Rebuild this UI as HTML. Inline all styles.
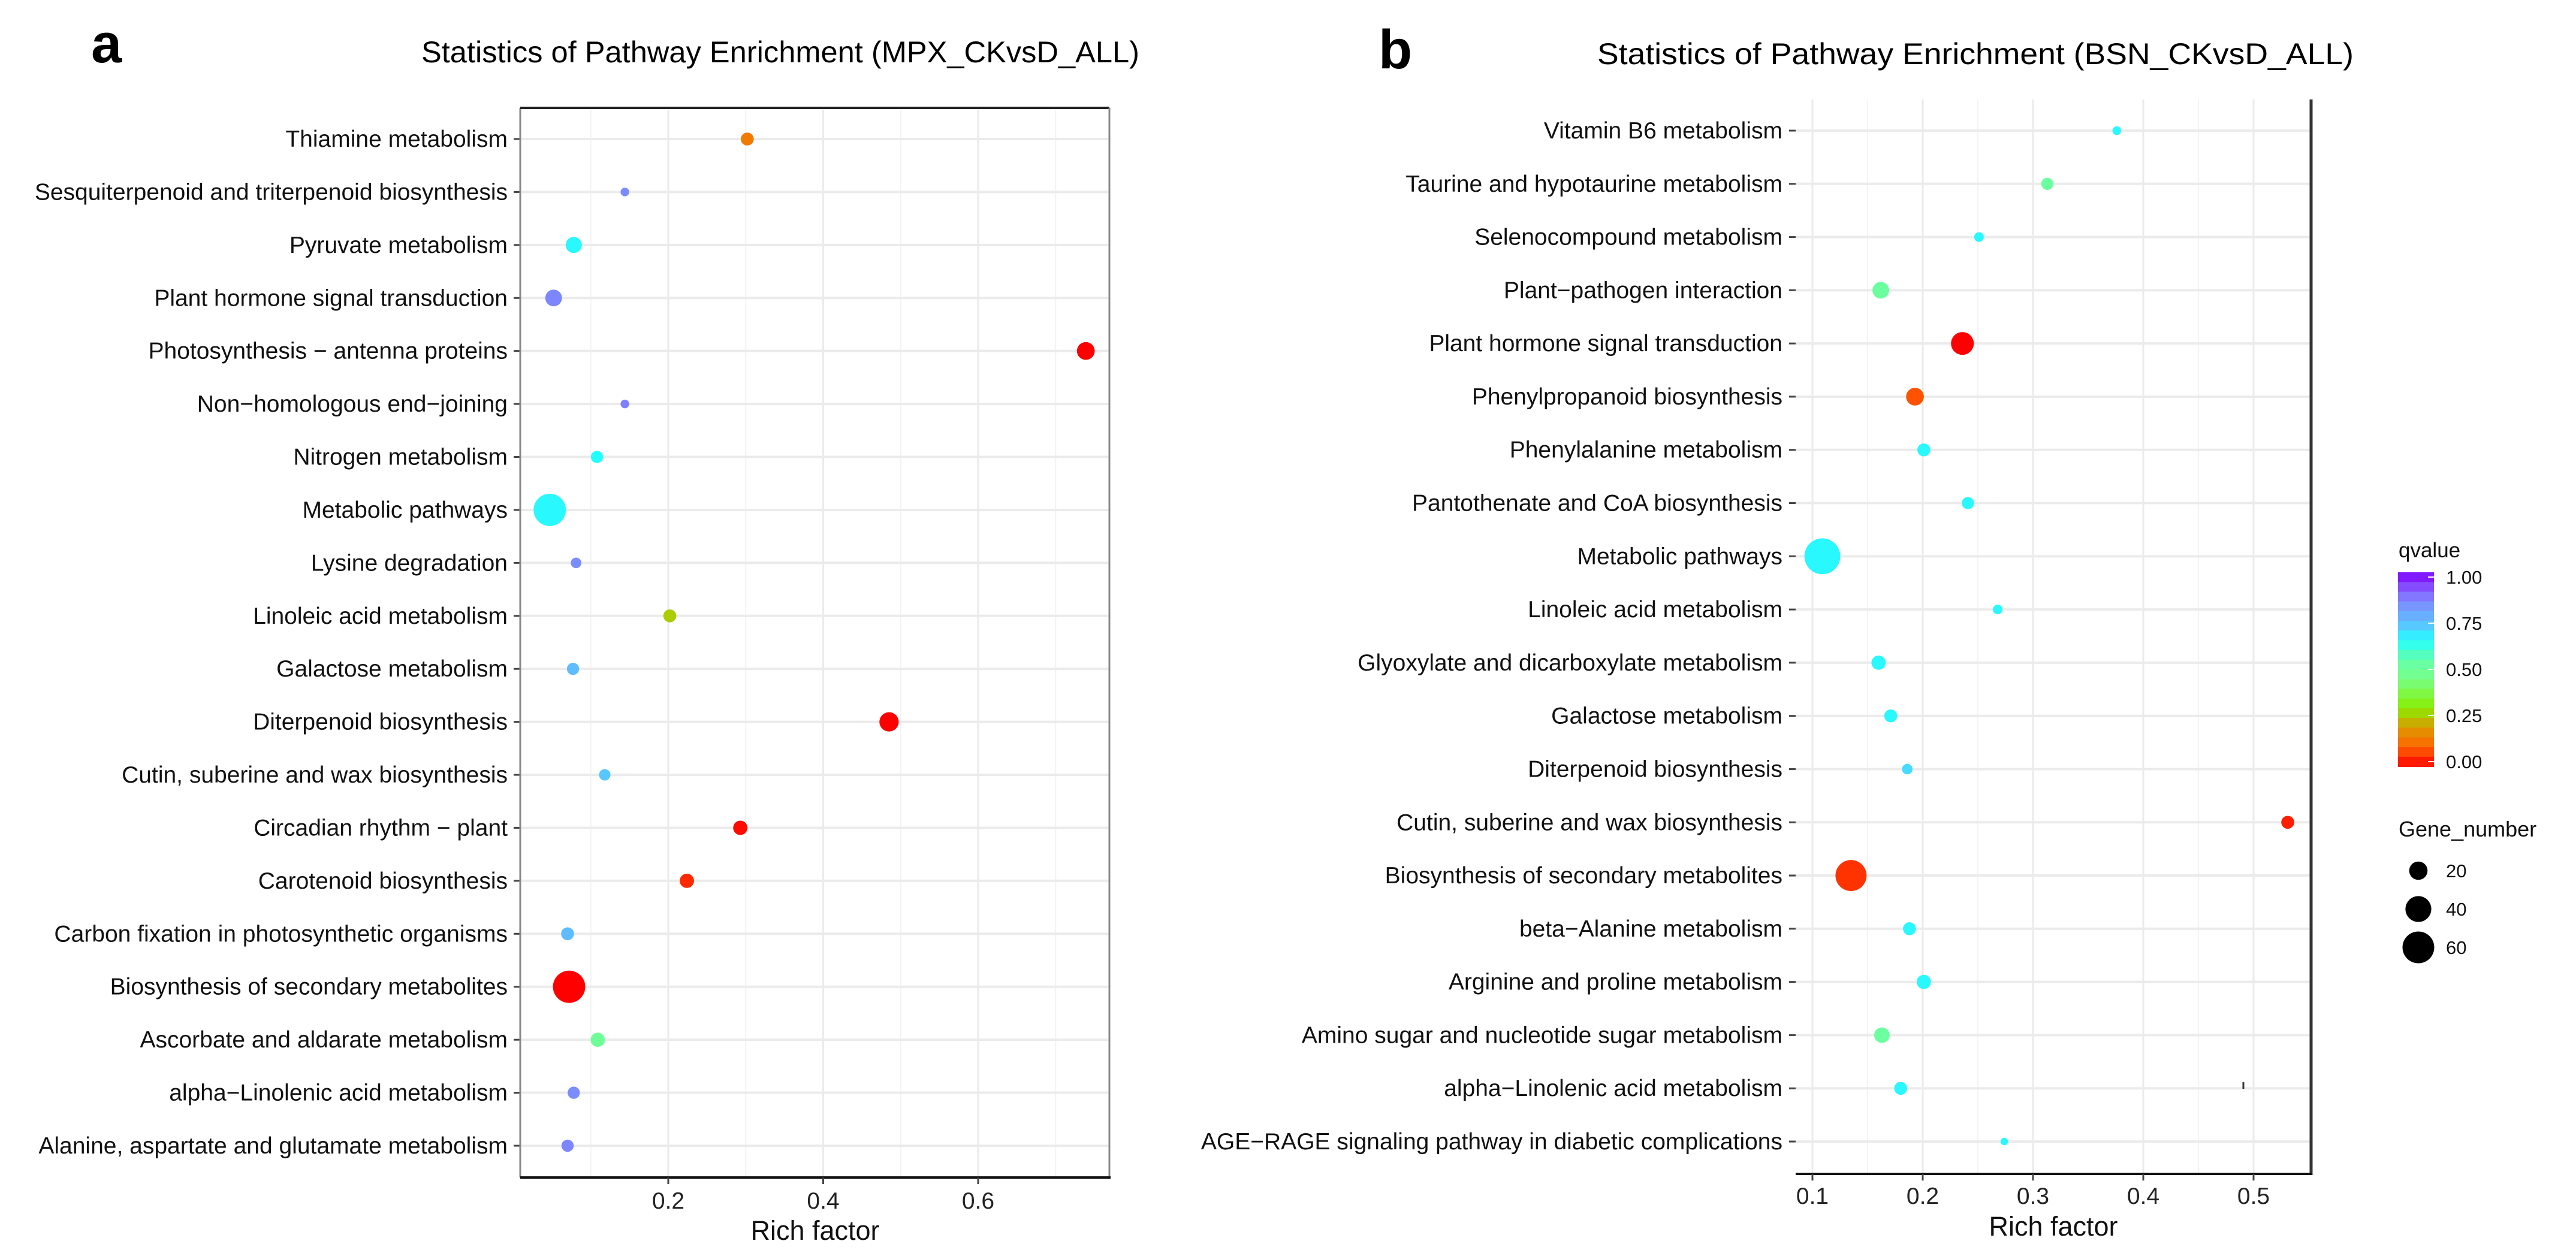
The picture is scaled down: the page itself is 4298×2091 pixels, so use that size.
<!DOCTYPE html>
<html><head><meta charset="utf-8"><style>
html,body{margin:0;padding:0;background:#fff;}
svg{display:block;font-family:"Liberation Sans",Arial,sans-serif;}
</style></head><body>
<svg id="fig" width="4298" height="2091" viewBox="0 0 4298 2091" xmlns="http://www.w3.org/2000/svg">
<rect x="0" y="0" width="4298" height="2091" fill="#fff"/>
<text x="152" y="104" font-size="92" font-weight="bold">a</text>
<text x="2300" y="114" font-size="92" font-weight="bold">b</text>
<text x="703" y="104" font-size="50" textLength="1198" lengthAdjust="spacingAndGlyphs">Statistics of Pathway Enrichment (MPX_CKvsD_ALL)</text>
<text x="2665" y="107" font-size="50" textLength="1262" lengthAdjust="spacingAndGlyphs">Statistics of Pathway Enrichment (BSN_CKvsD_ALL)</text>
<g id="pa"></g>
<g id="pb"></g>
<g id="leg"></g>
</svg>
<script>
// ---- Panel a data ----
const catsA = ["Thiamine metabolism","Sesquiterpenoid and triterpenoid biosynthesis","Pyruvate metabolism","Plant hormone signal transduction","Photosynthesis \u2212 antenna proteins","Non\u2212homologous end\u2212joining","Nitrogen metabolism","Metabolic pathways","Lysine degradation","Linoleic acid metabolism","Galactose metabolism","Diterpenoid biosynthesis","Cutin, suberine and wax biosynthesis","Circadian rhythm \u2212 plant","Carotenoid biosynthesis","Carbon fixation in photosynthetic organisms","Biosynthesis of secondary metabolites","Ascorbate and aldarate metabolism","alpha\u2212Linolenic acid metabolism","Alanine, aspartate and glutamate metabolism"];
const richA = [0.302,0.144,0.078,0.052,0.739,0.144,0.108,0.047,0.081,0.202,0.077,0.485,0.118,0.293,0.224,0.070,0.072,0.109,0.078,0.070];
const qA = [0.14,0.84,0.66,0.85,0.0,0.86,0.65,0.66,0.84,0.26,0.75,0.0,0.73,0.01,0.04,0.75,0.0,0.5,0.84,0.85];
const genesA = [9,4,14,15,17,4,8,56,6,9,8,20,7,11,11,9,56,11,8,8];
const ticksA = [0.2,0.4,0.6];
const tickLabelsA = ["0.2","0.4","0.6"];
const minorA = [0.1,0.3,0.5,0.7];
// ---- Panel b data ----
const catsB = ["Vitamin B6 metabolism","Taurine and hypotaurine metabolism","Selenocompound metabolism","Plant\u2212pathogen interaction","Plant hormone signal transduction","Phenylpropanoid biosynthesis","Phenylalanine metabolism","Pantothenate and CoA biosynthesis","Metabolic pathways","Linoleic acid metabolism","Glyoxylate and dicarboxylate metabolism","Galactose metabolism","Diterpenoid biosynthesis","Cutin, suberine and wax biosynthesis","Biosynthesis of secondary metabolites","beta\u2212Alanine metabolism","Arginine and proline metabolism","Amino sugar and nucleotide sugar metabolism","alpha\u2212Linolenic acid metabolism","AGE\u2212RAGE signaling pathway in diabetic complications"];
const richB = [0.376,0.313,0.251,0.162,0.236,0.193,0.201,0.241,0.109,0.268,0.160,0.171,0.186,0.531,0.135,0.188,0.201,0.163,0.180,0.274];
const qB = [0.66,0.52,0.66,0.52,0.0,0.08,0.66,0.66,0.66,0.66,0.66,0.66,0.70,0.03,0.05,0.66,0.66,0.52,0.66,0.66];
const genesB = [4,8,5,15,28,17,9,8,69,5,11,9,6,9,52,9,11,13,9,3];
const ticksB = [0.1,0.2,0.3,0.4,0.5];
const tickLabelsB = ["0.1","0.2","0.3","0.4","0.5"];
const minorB = [0.15,0.25,0.45];
// ---- legend data ----
const qLegendTicks = [0,0.25,0.5,0.75,1];
const qLegendLabels = ["0.00","0.25","0.50","0.75","1.00"];
const sizeLegend = [20,40,60];

const NS="http://www.w3.org/2000/svg";
function mk(parent,tag,attrs){const e=document.createElementNS(NS,tag);for(const k in attrs)e.setAttribute(k,attrs[k]);parent.appendChild(e);return e;}
const stops=[[0,[255,0,0]],[0.1,[255,102,0]],[0.2,[221,153,0]],[0.3,[136,238,0]],[0.45,[119,255,136]],[0.55,[102,255,170]],[0.65,[34,255,255]],[0.72,[85,204,255]],[0.82,[119,153,255]],[0.9,[136,102,255]],[1,[128,0,255]]];
function qcol(q){for(let i=1;i<stops.length;i++){if(q<=stops[i][0]){const a=stops[i-1],b=stops[i];const t=(q-a[0])/(b[0]-a[0]);const c=a[1].map((v,j)=>Math.round(v+(b[1][j]-v)*t));return `rgb(${c[0]},${c[1]},${c[2]})`;}}return "rgb(128,0,255)";}
function rad(n){return 3.6*Math.sqrt(n);}

function panel(g,cfg){
  const {left,right,top,bottom,x0,px0,scale,cats,rich,q,genes,ticks,labels,minor,row0,rowStep,labelEnd,tickY,titleX,titleY,borders}=cfg;
  const xs=v=>px0+(v-x0)*scale;
  const ys=i=>row0+i*rowStep;
  mk(g,"rect",{x:left,y:top,width:right-left,height:bottom-top,fill:"#fff"});
  minor.forEach(v=>{const l=mk(g,"line",{x1:xs(v),x2:xs(v),y1:top,y2:bottom,stroke:"#f3f3f3","stroke-width":2});

});
  ticks.forEach(v=>{const l=mk(g,"line",{x1:xs(v),x2:xs(v),y1:top,y2:bottom,stroke:"#ebebeb","stroke-width":3});

});
  cats.forEach((c,i)=>{const l=mk(g,"line",{x1:left,x2:right,y1:ys(i),y2:ys(i),stroke:"#ebebeb","stroke-width":4});


    const tk=mk(g,"line",{x1:left-11,x2:left,y1:ys(i),y2:ys(i),stroke:"#444","stroke-width":3});


    const t=mk(g,"text",{x:labelEnd,y:ys(i)+13,"font-size":39,"text-anchor":"end",fill:"#111"});t.textContent=c;

});
  if(borders.left)mk(g,"line",{x1:left,x2:left,y1:top,y2:bottom,stroke:borders.left,"stroke-width":3});
  if(borders.top)mk(g,"line",{x1:left,x2:right,y1:top,y2:top,stroke:borders.top,"stroke-width":4});
  if(borders.right)mk(g,"line",{x1:right,x2:right,y1:top,y2:bottom+2,stroke:borders.right,"stroke-width":borders.rw||3});
  mk(g,"line",{x1:left,x2:right+2,y1:bottom,y2:bottom,stroke:"#111","stroke-width":4});
  ticks.forEach((v,i)=>{const tk=mk(g,"line",{x1:xs(v),x2:xs(v),y1:bottom,y2:bottom+11,stroke:"#444","stroke-width":3});


    const t=mk(g,"text",{x:xs(v),y:tickY,"font-size":39,"text-anchor":"middle",fill:"#222"});t.textContent=labels[i];

});
  const at=mk(g,"text",{x:titleX,y:titleY,"font-size":45,"text-anchor":"middle",fill:"#111"});at.textContent="Rich factor";


  cats.forEach((c,i)=>{const d=mk(g,"circle",{cx:xs(rich[i]),cy:ys(i),r:rad(genes[i]),fill:qcol(q[i])});

});
}
panel(document.getElementById("pa"),{left:868,right:1851,top:180,bottom:1965,x0:0.2,px0:1115,scale:1292.5,cats:catsA,rich:richA,q:qA,genes:genesA,ticks:ticksA,labels:tickLabelsA,minor:minorA,row0:232,rowStep:88.42,labelEnd:847,tickY:2017,titleX:1360,titleY:2069,borders:{left:"#888",top:"#222",right:"#888",rw:3}});
panel(document.getElementById("pb"),{left:2996,right:3856,top:166,bottom:1959,x0:0.1,px0:3024,scale:1840,cats:catsB,rich:richB,q:qB,genes:genesB,ticks:ticksB,labels:tickLabelsB,minor:minorB,row0:218,rowStep:88.79,labelEnd:2974,tickY:2009,titleX:3426,titleY:2062,borders:{right:"#333",rw:5}});
mk(document.getElementById("pb"),"line",{x1:3743,x2:3743,y1:1806,y2:1817,stroke:"#333","stroke-width":3});

// legend
const lg=document.getElementById("leg");
let t=mk(lg,"text",{x:4002,y:930,"font-size":35,fill:"#111"});t.textContent="qvalue";


const cbTop=955,cbBot=1279,nb=20;
for(let i=0;i<nb;i++){const q=1-(i+0.5)/nb;const r=mk(lg,"rect",{x:4001,y:cbTop+i*(cbBot-cbTop)/nb,width:60,height:(cbBot-cbTop)/nb+1,fill:qcol(q)});

}
qLegendTicks.forEach((v,i)=>{const y=cbBot-8-v*(cbBot-cbTop-16);
 mk(lg,"line",{x1:4051,x2:4061,y1:y,y2:y,stroke:"#fff","stroke-width":2});
 const tx=mk(lg,"text",{x:4081,y:y+11,"font-size":31,fill:"#111"});tx.textContent=qLegendLabels[i];

});
t=mk(lg,"text",{x:4002,y:1396,"font-size":36,fill:"#111"});t.textContent="Gene_number";


sizeLegend.forEach((n,i)=>{const y=1453+i*64;
 const c=mk(lg,"circle",{cx:4035,cy:y,r:rad(n)*0.95,fill:"#000"});


 const tx=mk(lg,"text",{x:4081,y:y+11,"font-size":31,fill:"#111"});tx.textContent=String(n);

});
</script>
</body></html>
